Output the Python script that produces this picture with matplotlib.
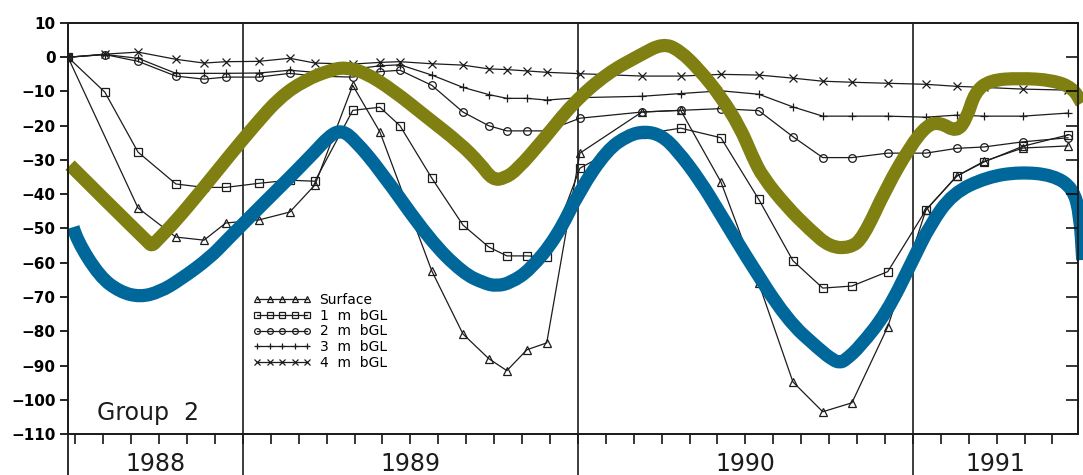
import matplotlib
matplotlib.use('Agg')
import matplotlib.pyplot as plt
import matplotlib.transforms as mtransforms
from matplotlib.path import Path
from matplotlib.patches import PathPatch

# sampling dates (decimal years) shared by the five depth series
dates = [1988.478, 1988.588, 1988.687, 1988.800, 1988.884, 1988.949, 1989.048, 1989.140,
         1989.215, 1989.328, 1989.409, 1989.469, 1989.564, 1989.657, 1989.734, 1989.788,
         1989.848, 1989.907, 1990.006, 1990.191, 1990.307, 1990.427, 1990.540, 1990.642,
         1990.731, 1990.818, 1990.925, 1991.039, 1991.131, 1991.212, 1991.328, 1991.463]

# None = no reading on that date
surface = [0, None, -44.0, -52.5, -53.4, -48.4, -47.5, -45.2, -37.3, -8.2, -21.8, None,
           -62.4, -80.8, -88.0, -91.5, -85.4, -83.4, -28.0, -16.0, -15.5, -36.4, -66.0,
           -94.8, -103.5, -100.9, -78.7, -44.6, -34.7, -30.4, -26.5, -25.9]
bgl_1m = [0, -10.2, -27.7, -37.0, -38.0, -38.0, -36.8, -35.9, -36.2, -15.5, -14.6, -20.0,
          -35.3, -49.0, -55.4, -58.0, -58.0, -58.3, -32.4, -22.5, -20.7, -23.5, -41.5,
          -59.4, -67.4, -66.8, -62.6, -44.6, -34.7, -30.6, -26.0, -22.7]
bgl_2m = [0, 0.8, -1.2, -5.5, -6.4, -5.8, -5.8, -4.7, -5.5, -5.8, -4.2, -3.8, -8.2, -16.0,
          -20.0, -21.5, -21.5, -21.5, -17.8, -16.0, -15.5, -15.0, -15.6, -23.2, -29.3,
          -29.3, -28.0, -28.0, -26.6, -26.2, -24.7, -23.5]
bgl_3m = [0, 0.8, -0.3, -4.7, -4.7, -4.7, -4.6, -3.8, -4.4, -3.5, -2.5, -2.2, -5.2, -8.8,
          -10.9, -12.0, -12.0, -12.5, -11.8, -11.4, -10.6, -9.8, -10.8, -14.5, -17.2,
          -17.2, -17.2, -17.5, -16.9, -17.2, -17.2, -16.3]
bgl_4m = [0, 0.9, 1.5, -0.6, -1.7, -1.3, -1.2, -0.3, -1.7, -2.0, -1.5, -1.3, -1.9, -2.3,
          -3.4, -3.6, -4.0, -4.4, -4.8, -5.5, -5.5, -5.0, -5.2, -6.1, -7.0, -7.3, -7.6,
          -7.9, -8.5, -8.8, -9.3, -9.6]

labels = ['Surface', '1  m  bGL', '2  m  bGL', '3  m  bGL', '4  m  bGL']

# hand drawn overlay curves (points read along the strokes)
olive_x = [1988.484, 1988.603, 1988.716, 1988.728, 1988.743, 1988.797, 1988.872, 1988.961,
           1989.036, 1989.110, 1989.185, 1989.260, 1989.304, 1989.364, 1989.448, 1989.549,
           1989.648, 1989.707, 1989.746, 1989.782, 1989.818, 1989.896, 1989.985, 1990.087,
           1990.185, 1990.254, 1990.304, 1990.364, 1990.424, 1990.484, 1990.522, 1990.552,
           1990.624, 1990.693, 1990.752, 1990.812, 1990.851, 1990.922, 1990.991, 1991.042,
           1991.081, 1991.131, 1991.161, 1991.185, 1991.230, 1991.319, 1991.418, 1991.478,
           1991.504]
olive_y = [-31.5, -43.1, -53.9, -55.1, -53.6, -48.1, -39.4, -28.6, -19.8, -11.7, -6.7, -3.8,
           -2.9, -4.4, -9.6, -17.5, -25.1, -30.9, -35.9, -35.3, -32.9, -24.2, -13.4, -4.7,
           0.6, 4.1, 2.0, -3.8, -11.1, -20.4, -29.2, -35.0, -43.7, -50.4, -55.4, -55.7,
           -52.8, -37.9, -26.2, -19.8, -19.0, -21.9, -17.8, -10.2, -6.7, -6.1, -6.7, -9.0,
           -13.4]

blue_x = [1988.493, 1988.504, 1988.573, 1988.633, 1988.693, 1988.752, 1988.812, 1988.901,
          1988.952, 1989.051, 1989.200, 1989.260, 1989.296, 1989.334, 1989.409, 1989.558,
          1989.657, 1989.720, 1989.758, 1989.800, 1989.857, 1989.937, 1990.006, 1990.087,
          1990.150, 1990.200, 1990.250, 1990.296, 1990.364, 1990.424, 1990.499, 1990.624,
          1990.722, 1990.760, 1990.782, 1990.800, 1990.842, 1990.922, 1991.000, 1991.051,
          1991.119, 1991.221, 1991.319, 1991.418, 1991.478, 1991.499, 1991.507]
blue_y = [-49.6, -53.4, -64.1, -68.5, -70.0, -68.5, -65.0, -58.6, -53.4, -43.7, -29.2,
          -22.7, -21.3, -24.2, -32.9, -53.4, -63.0, -66.0, -66.8, -65.8, -62.1, -52.5,
          -38.8, -27.1, -22.8, -21.6, -22.8, -27.1, -35.9, -45.5, -57.7, -76.7, -85.4,
          -88.3, -89.2, -88.3, -84.5, -74.6, -59.2, -49.0, -39.7, -35.0, -33.5, -34.4,
          -38.2, -46.1, -59.2]

years = ['1988', '1989', '1990', '1991']

x0, x1 = 1988.478, 1991.493
ink = '#1c1c1c'


def smooth_stroke(xs, ys):
    # quadratic spline through the read points, drawn by matplotlib's Path
    verts = [(xs[0], ys[0])]
    codes = [Path.MOVETO]
    for i in range(1, len(xs) - 1):
        verts.append((xs[i], ys[i]))
        verts.append(((xs[i] + xs[i + 1]) / 2, (ys[i] + ys[i + 1]) / 2))
        codes += [Path.CURVE3, Path.CURVE3]
    verts.append((xs[-1], ys[-1]))
    codes.append(Path.LINETO)
    return Path(verts, codes)


fig = plt.figure(figsize=(10.83, 4.75), dpi=100)
ax = fig.add_axes([0.0628, 0.0863, 0.9326, 0.8653])

markers = ['^', 's', 'o', '+', 'x']
for vals, mk, lab in zip([surface, bgl_1m, bgl_2m, bgl_3m, bgl_4m], markers, labels):
    xs = [d for d, v in zip(dates, vals) if v is not None]
    ys = [v for v in vals if v is not None]
    ax.plot(xs, ys, color=ink, lw=0.9, marker=mk, ms=5.5, mfc='none', mec=ink,
            mew=0.9, label=lab, zorder=3)

# overlay curves
for cx, cy, col, z in [(olive_x, olive_y, '#7f7f12', 6), (blue_x, blue_y, '#00679b', 7)]:
    patch = PathPatch(smooth_stroke(cx, cy), fill=False, edgecolor=col, lw=9.5,
                      capstyle='butt', joinstyle='round', zorder=z, clip_on=False,
                      transform=ax.transData)
    ax.add_patch(patch)

ax.set_xlim(x0, x1)
ax.set_ylim(-110, 10)
ax.set_yticks(range(-110, 11, 10))
for t in ax.get_yticklabels():
    t.set_fontweight('bold')
ax.tick_params(axis='y', direction='out', length=6, width=1.2, labelsize=11, pad=3)

month_ticks = [1988.5 + k / 12 for k in range(36)]
ax.set_xticks(month_ticks)
ax.set_xticklabels([])
ax.tick_params(axis='x', direction='out', length=7, width=1.1)

ax2 = ax.twinx()
ax2.set_ylim(-110, 10)
ax2.set_yticks(range(-110, 11, 10))
ax2.set_yticklabels([])
ax2.tick_params(axis='y', direction='in', length=9, width=1.1)

for a in (ax, ax2):
    for s in a.spines.values():
        s.set_linewidth(1.3)
        s.set_color(ink)

# year dividers, running down through the label band
for yr in (1989, 1990, 1991):
    ax.axvline(yr, ymin=-0.12, ymax=1, color=ink, lw=1.2, clip_on=False, zorder=2)
ax.axvline(x0, ymin=-0.12, ymax=0, color=ink, lw=1.3, clip_on=False)

trans = mtransforms.blended_transform_factory(ax.transData, ax.transAxes)
bounds = [x0, 1989, 1990, 1991, x1]
for i, yr in enumerate(years):
    ax.text((bounds[i] + bounds[i + 1]) / 2, -0.072, yr, transform=trans,
            ha='center', va='center', fontsize=17, color=ink)

ax.text(0.029, 0.052, 'Group  2', transform=ax.transAxes, ha='left', va='center',
        fontsize=17, color=ink)

leg = ax.legend(loc='upper left', bbox_to_anchor=(0.183, 0.343), frameon=False,
                numpoints=5, handlelength=4.2, handletextpad=0.6, labelspacing=0.12,
                fontsize=10, borderaxespad=0, borderpad=0, markerscale=0.75)
leg.set_zorder(4)

fig.savefig('out.png', dpi=100)
